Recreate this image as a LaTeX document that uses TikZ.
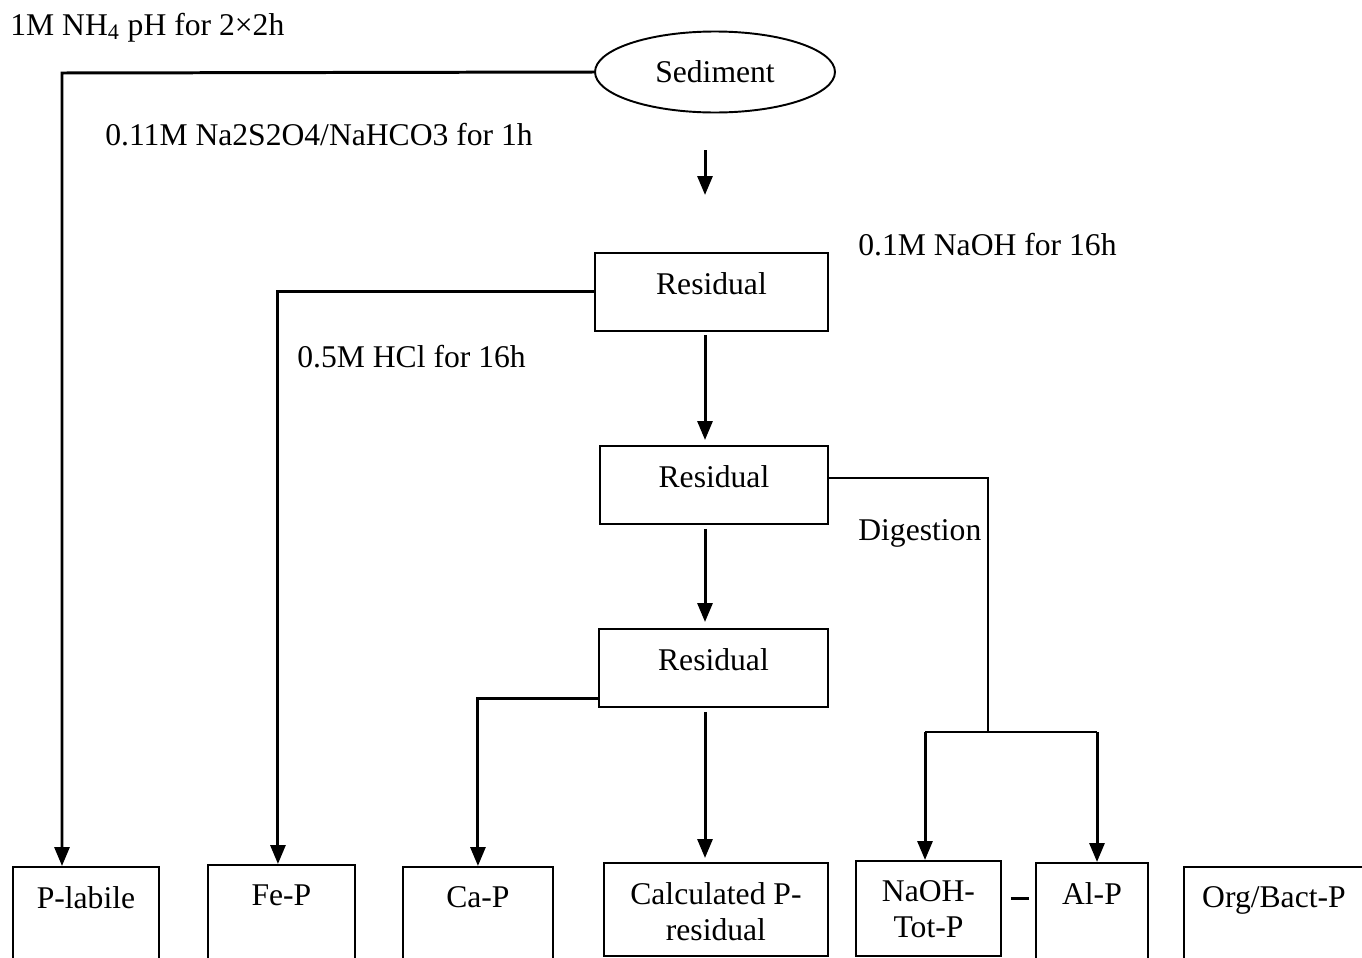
\documentclass[tikz,border=0pt]{standalone}
\usepackage{fontspec}
\setmainfont{Liberation Serif}
\usetikzlibrary{shapes.geometric, arrows.meta}
\tikzset{
  box/.style={draw, line width=1.1pt, anchor=north west, inner sep=0pt},
  intext/.style={anchor=north, inner sep=0pt, yshift=-0.4cm, align=center},
  note/.style={anchor=base west, inner sep=0pt},
  link/.style={line width=1.2pt},
  arr/.style={line width=1.7pt, -{Triangle[length=0.38cm, width=0.3cm]}}
}
\begin{document}
\begin{tikzpicture}[x=0.02cm, y=-0.02cm, font=\fontsize{18}{20.5}\selectfont]
\useasboundingbox (0,0) rectangle (1362,957);
\clip (0,0) rectangle (1362,957);
% 沉积物
\node[draw, ellipse, line width=1.1pt, minimum width=4.8cm, minimum height=1.62cm] (sed) at (715,72) {Sediment};
% 提取条件
\node[note] (t1) at (10,35) {1M NH\textsubscript{4} pH for 2×2h};
\node[note] (t2) at (105,145) {0.11M Na2S2O4/NaHCO3 for 1h};
\node[note] (t3) at (858,255) {0.1M NaOH for 16h};
\node[note] (t4) at (297,367) {0.5M HCl for 16h};
\node[note] (t5) at (858,540) {Digestion};
% 残渣
\node[box, minimum width=4.66cm, minimum height=1.56cm, label={[intext]north:Residual}] (res1) at (594,252) {};
\node[box, minimum width=4.56cm, minimum height=1.56cm, label={[intext]north:Residual}] (res2) at (599,445) {};
\node[box, minimum width=4.58cm, minimum height=1.56cm, label={[intext]north:Residual}] (res3) at (598,628) {};
% 各形态磷
\node[box, minimum width=2.92cm, minimum height=2.4cm, label={[intext]north:P-labile}] (plab) at (12,866) {};
\node[box, minimum width=2.94cm, minimum height=2.4cm, label={[intext]north:Fe-P}] (fep) at (207,864) {};
\node[box, minimum width=3.0cm, minimum height=2.4cm, label={[intext]north:Ca-P}] (cap) at (402,866) {};
\node[box, minimum width=4.48cm, minimum height=1.86cm, label={[intext]north:{Calculated P-\\residual}}] (calc) at (603,862) {};
\node[box, minimum width=2.9cm, minimum height=1.9cm, label={[intext]north:{NaOH-\\Tot-P}}] (naoh) at (855,860) {};
\node[box, minimum width=2.24cm, minimum height=2.4cm, label={[intext]north:Al-P}] (alp) at (1035,862) {};
\node[box, minimum width=3.6cm, minimum height=2.4cm, label={[intext]north:Org/Bact-P}] (org) at (1183,866) {};
% 主线箭头
\coordinate (ax) at (705,0);
\coordinate (s1) at (705,150);
\coordinate (s2) at (705,195);
\draw[arr] (s1) -- (s2);
\draw[arr, shorten <=0.06cm, shorten >=0.1cm] (res1.south -| ax) -- (res2.north -| ax);
\draw[arr, shorten <=0.08cm, shorten >=0.12cm] (res2.south -| ax) -- (res3.north -| ax);
\draw[arr, shorten <=0.08cm, shorten >=0.08cm] (res3.south -| ax) -- (calc.north -| ax);
% 支线箭头
\coordinate (c1) at (62,73);
\draw[arr] (sed.west) -- (c1) -- (c1 |- plab.north);
\draw[arr] (res1.west) -| ([xshift=-0.07cm]fep.north);
\draw[arr] ([yshift=0.18cm]res3.south west) -| (cap.north);
% 消解
\coordinate (d1) at (988,732);
\coordinate (d2) at (925,732);
\coordinate (d3) at (1097,732);
\draw[link] ([yshift=0.14cm]res2.east) -| (d1);
\draw[link] (d2) -- (d3);
\draw[arr] (d2) -- (d2 |- naoh.north);
\draw[arr] (d3) -- (d3 |- alp.north);
\draw[link, shorten <=0.18cm, shorten >=0.12cm] ([yshift=0.2cm]naoh.east) -- ([yshift=0.2cm]naoh.east -| alp.west);
\end{tikzpicture}
\end{document}
